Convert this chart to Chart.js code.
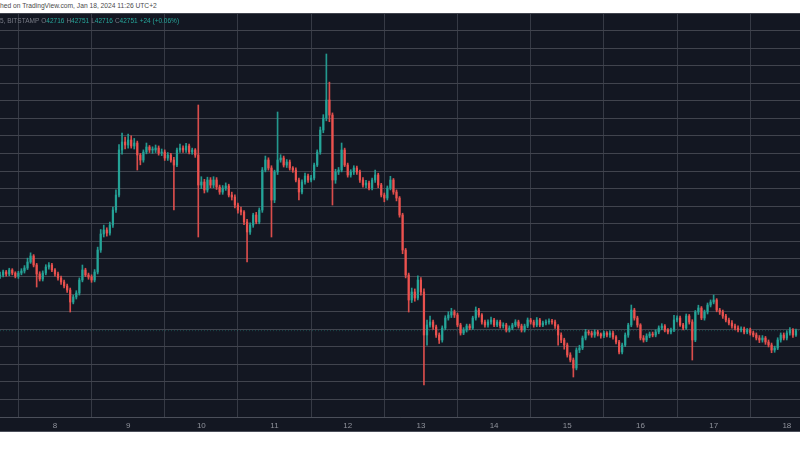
<!DOCTYPE html>
<html>
<head>
<meta charset="utf-8">
<script src="https://cdn.jsdelivr.net/npm/chart.js@4.4.1/dist/chart.umd.min.js"></script>
<style>
    body { margin: 0; background: #ffffff; }
    #wrap { position: relative; width: 800px; height: 450px; overflow: hidden; background: #ffffff; font-family: "Liberation Sans", Arial, sans-serif; }
    #pub { position: absolute; left: 0; top: 2px; font-size: 6.7px; color: #4a4a4a; white-space: nowrap; }
    #panel { position: absolute; left: 0; top: 13px; width: 800px; height: 419px; background: #131722; border-top: 1px solid #d6d6d6; box-sizing: border-box; border-bottom: 1px solid #4b4f5a; }
    #legend { position: absolute; left: 0; top: 17px; font-size: 6.5px; white-space: nowrap; color: #787b86; }
    #legend .k { margin-left: 2px; }
    #legend .v { color: #26a69a; }
    canvas { position: absolute; left: 0; top: 13px; }
</style>
</head>
<body>
<div id="wrap">
    <div id="pub">hed on TradingView.com, Jan 18, 2024 11:26 UTC+2</div>
    <div id="panel"></div>
    <canvas id="btcChart" width="800" height="419"></canvas>
    <div id="legend">5, BITSTAMP<span class="k">O</span><span class="v">42716</span><span class="k">H</span><span class="v">42751</span><span class="k">L</span><span class="v">42716</span><span class="k">C</span><span class="v">42751</span><span class="k v">+24 (+0.06%)</span></div>
</div>
<script>
// BTC/USD hourly candles, Jan 7 06:00 -> Jan 18
const dayTicks = [8, 9, 10, 11, 12, 13, 14, 15, 16, 17, 18];
const firstHour = 7.25;
const firstOpen = 43993;
const lastPrice = 42751;

const closes = [
    44016, 44084, 44039, 44130, 44061, 43993, 44061, 44107, 44175, 44311,
    44448, 44243, 44039, 43925, 44061, 44198, 44243, 44130, 44039, 43948,
    43857, 43766, 43675, 43402, 43516, 43607, 43902, 44130, 44016, 43970,
    43902, 44084, 44584, 44948, 45039, 44970, 45152, 45493, 45834, 46857,
    47039, 46971, 47084, 46948, 47016, 46743, 46630, 46811, 46925, 46857,
    46857, 46902, 46789, 46811, 46675, 46743, 46630, 46516, 46857, 46902,
    46857, 46948, 46811, 46857, 46743, 46061, 46130, 45948, 46175, 46061,
    46175, 46016, 45902, 45993, 46039, 45834, 45789, 45607, 45493, 45448,
    45221, 44993, 45152, 45380, 45221, 45493, 46402, 46630, 46448, 45720,
    46357, 46630, 46675, 46516, 46584, 46448, 46402, 46175, 45902, 46130,
    46266, 46175, 46220, 46516, 46811, 47311, 47584, 47993, 47652, 46175,
    46357, 46402, 46857, 46516, 46289, 46357, 46448, 46357, 46175, 46061,
    46107, 45993, 46175, 46289, 46061, 45834, 45766, 45993, 46175, 45902,
    45766, 45380, 44584, 44016, 43448, 43630, 43493, 43902, 43630, 42652,
    42880, 42948, 42834, 42652, 42539, 42811, 43039, 43107, 43175, 43107,
    42880, 42698, 42766, 42857, 42811, 43039, 43220, 43107, 42948, 42880,
    42948, 42993, 42880, 42948, 42857, 42880, 42766, 42811, 42880, 42948,
    42857, 42766, 42857, 42993, 42948, 42880, 42993, 42880, 42925, 42948,
    42971, 42948, 42857, 42652, 42539, 42425, 42198, 42084, 41902, 42311,
    42357, 42584, 42721, 42698, 42652, 42721, 42675, 42630, 42698, 42652,
    42698, 42607, 42493, 42266, 42425, 42652, 42880, 43220, 43039, 42880,
    42584, 42539, 42630, 42675, 42652, 42721, 42811, 42857, 42766, 42721,
    42766, 42993, 43039, 42880, 42811, 43084, 42948, 42539, 43175, 43266,
    43039, 43175, 43334, 43402, 43448, 43220, 43175, 43084, 42993, 42925,
    42857, 42811, 42766, 42789, 42721, 42766, 42698, 42652, 42584, 42539,
    42584, 42493, 42425, 42311, 42357, 42539, 42652, 42584, 42698, 42766,
    42652, 42751
];

const highs = [
    44080, 44130, 44120, 44170, 44160, 44090, 44100, 44160, 44230, 44400,
    44520, 44480, 44280, 44090, 44110, 44250, 44300, 44280, 44160, 44080,
    43990, 43900, 43810, 43720, 43560, 43660, 43950, 44243, 44170, 44060,
    44020, 44140, 44650, 45050, 45150, 45090, 45220, 45560, 45950, 46980,
    47243, 47150, 47220, 47180, 47120, 47060, 46780, 46860, 47016, 46960,
    46930, 46971, 46950, 46880, 46860, 46800, 46780, 46690, 46900, 46990,
    46950, 47010, 46990, 46900, 46890, 47880, 46250, 46190, 46240, 46230,
    46250, 46230, 46060, 46050, 46110, 46080, 45900, 45840, 45650, 45560,
    45480, 45280, 45200, 45420, 45440, 45540, 46460, 46720, 46680, 46500,
    46400, 47721, 46750, 46720, 46640, 46630, 46480, 46450, 46220, 46180,
    46330, 46310, 46280, 46560, 46860, 47380, 47660, 49039, 48400, 47700,
    46420, 46460, 47016, 46900, 46560, 46410, 46500, 46490, 46400, 46230,
    46170, 46150, 46220, 46400, 46330, 46100, 45880, 46040, 46260, 46210,
    45950, 45800, 45420, 44620, 44060, 43720, 43700, 44000, 43960, 43700,
    42990, 43080, 42990, 42880, 42700, 42860, 43090, 43180, 43260, 43220,
    43150, 42920, 42820, 42900, 42900, 43080, 43290, 43260, 43140, 42990,
    43000, 43060, 43030, 42990, 42990, 42930, 42920, 42860, 42920, 43000,
    42990, 42900, 42900, 43040, 43030, 42990, 43050, 43030, 42970, 43000,
    43020, 43010, 42990, 42890, 42700, 42580, 42470, 42250, 42130, 42360,
    42420, 42630, 42780, 42760, 42740, 42770, 42760, 42700, 42740, 42730,
    42750, 42740, 42640, 42530, 42470, 42700, 42920, 43334, 43260, 43080,
    42910, 42640, 42680, 42720, 42720, 42770, 42860, 42910, 42890, 42800,
    42810, 43100, 43090, 43080, 42920, 43130, 43120, 43000, 43210, 43330,
    43300, 43220, 43380, 43450, 43561, 43480, 43260, 43220, 43120, 43040,
    42980, 42900, 42860, 42840, 42830, 42800, 42810, 42740, 42700, 42640,
    42640, 42620, 42540, 42470, 42400, 42590, 42700, 42700, 42750, 42820,
    42800, 42790
];

const lows = [
    43940, 43970, 43990, 44000, 44020, 43950, 43940, 44020, 44060, 44140,
    44280, 44200, 43743, 43880, 43880, 44020, 44150, 44090, 43990, 43900,
    43800, 43720, 43620, 43175, 43360, 43470, 43560, 43860, 43980, 43920,
    43850, 43860, 44040, 44530, 44880, 44900, 44920, 45100, 45440, 45790,
    46760, 46880, 46900, 46900, 46880, 46402, 46520, 46580, 46770, 46800,
    46780, 46800, 46740, 46730, 46620, 46620, 46580, 45493, 46480, 46800,
    46800, 46800, 46770, 46760, 46690, 44880, 45980, 45880, 45900, 46000,
    46000, 45960, 45850, 45850, 45940, 45790, 45720, 45540, 45420, 45380,
    45160, 44311, 44940, 45100, 45180, 45180, 45440, 46360, 46400, 44880,
    45660, 46300, 46580, 46470, 46460, 46400, 46350, 46130, 45720, 45860,
    46080, 46120, 46130, 46180, 46480, 46760, 47250, 47520, 47500, 45607,
    46100, 46300, 46360, 46480, 46240, 46240, 46300, 46300, 46120, 46010,
    46000, 45950, 45950, 46120, 46000, 45790, 45680, 45720, 45950, 45850,
    45700, 45330, 44500, 43950, 43175, 43390, 43420, 43450, 43560, 41516,
    42420, 42830, 42780, 42600, 42460, 42490, 42770, 42990, 43050, 43050,
    42840, 42650, 42660, 42720, 42770, 42780, 42990, 43060, 42900, 42830,
    42830, 42900, 42840, 42840, 42810, 42810, 42720, 42720, 42770, 42840,
    42810, 42720, 42720, 42820, 42900, 42830, 42840, 42840, 42840, 42880,
    42900, 42900, 42800, 42420, 42480, 42330, 42150, 42040, 41698, 41860,
    42250, 42320, 42540, 42650, 42600, 42600, 42630, 42580, 42590, 42610,
    42600, 42560, 42450, 42220, 42220, 42390, 42600, 42840, 42990, 42830,
    42540, 42490, 42500, 42590, 42610, 42610, 42680, 42770, 42720, 42680,
    42680, 42730, 42950, 42850, 42770, 42780, 42900, 42084, 42500, 43120,
    43000, 42990, 43130, 43290, 43360, 43180, 43120, 43030, 42950, 42880,
    42810, 42770, 42720, 42720, 42680, 42680, 42650, 42610, 42540, 42480,
    42490, 42440, 42380, 42250, 42260, 42320, 42490, 42540, 42540, 42650,
    42600, 42620
];

const UP = 'rgba(38, 166, 154, 0.9)';
const DOWN = 'rgba(239, 83, 80, 0.9)';

// open of each hour is the previous close
const opens = closes.map((c, i) => i === 0 ? firstOpen : closes[i - 1]);
const times = closes.map((c, i) => firstHour + i / 24);
const colors = closes.map((c, i) => c >= opens[i] ? UP : DOWN);

const xMin = 7.249, xMax = 18.18;
const yMin = 40789, yMax = 49971;

const ctx = document.getElementById('btcChart').getContext('2d');

new Chart(ctx, {
    type: 'bar',
    data: {
        datasets: [
            {
                label: 'wick',
                data: times.map((t, i) => ({ x: t, y: [lows[i], highs[i]] })),
                backgroundColor: colors,
                barThickness: 1,
                grouped: false,
                order: 2
            },
            {
                label: 'body',
                data: times.map((t, i) => ({ x: t, y: [opens[i], closes[i]] })),
                backgroundColor: colors,
                barThickness: 1.6,
                minBarLength: 1,
                grouped: false,
                order: 1
            },
            {
                type: 'line',
                label: 'last',
                data: [{ x: xMin, y: lastPrice }, { x: xMax, y: lastPrice }],
                borderColor: 'rgba(38, 166, 154, 0.35)',
                borderWidth: 1,
                borderDash: [1, 2],
                pointRadius: 0,
                order: 3
            }
        ]
    },
    options: {
        responsive: false,
        animation: false,
        devicePixelRatio: 1,
        layout: { padding: 0 },
        plugins: {
            legend: { display: false },
            tooltip: { enabled: false }
        },
        scales: {
            x: {
                type: 'linear',
                min: xMin,
                max: xMax,
                offset: false,
                grid: { color: '#363a45', drawTicks: false },
                border: { display: true, color: '#4b4f5a' },
                ticks: {
                    color: '#8f929b',
                    font: { size: 8, family: 'Liberation Sans' },
                    padding: 4,
                    maxRotation: 0,
                    autoSkip: false,
                    callback: v => String(v)
                },
                afterBuildTicks: s => { s.ticks = dayTicks.map(v => ({ value: v })); },
                afterFit: s => { s.height = 15; }
            },
            y: {
                position: 'right',
                min: yMin,
                max: yMax,
                grid: { color: '#41444e', drawTicks: false },
                border: { display: false },
                ticks: { display: false, stepSize: 400, includeBounds: false },
                afterFit: s => { s.width = 0; }
            }
        }
    }
});
</script>
</body>
</html>
